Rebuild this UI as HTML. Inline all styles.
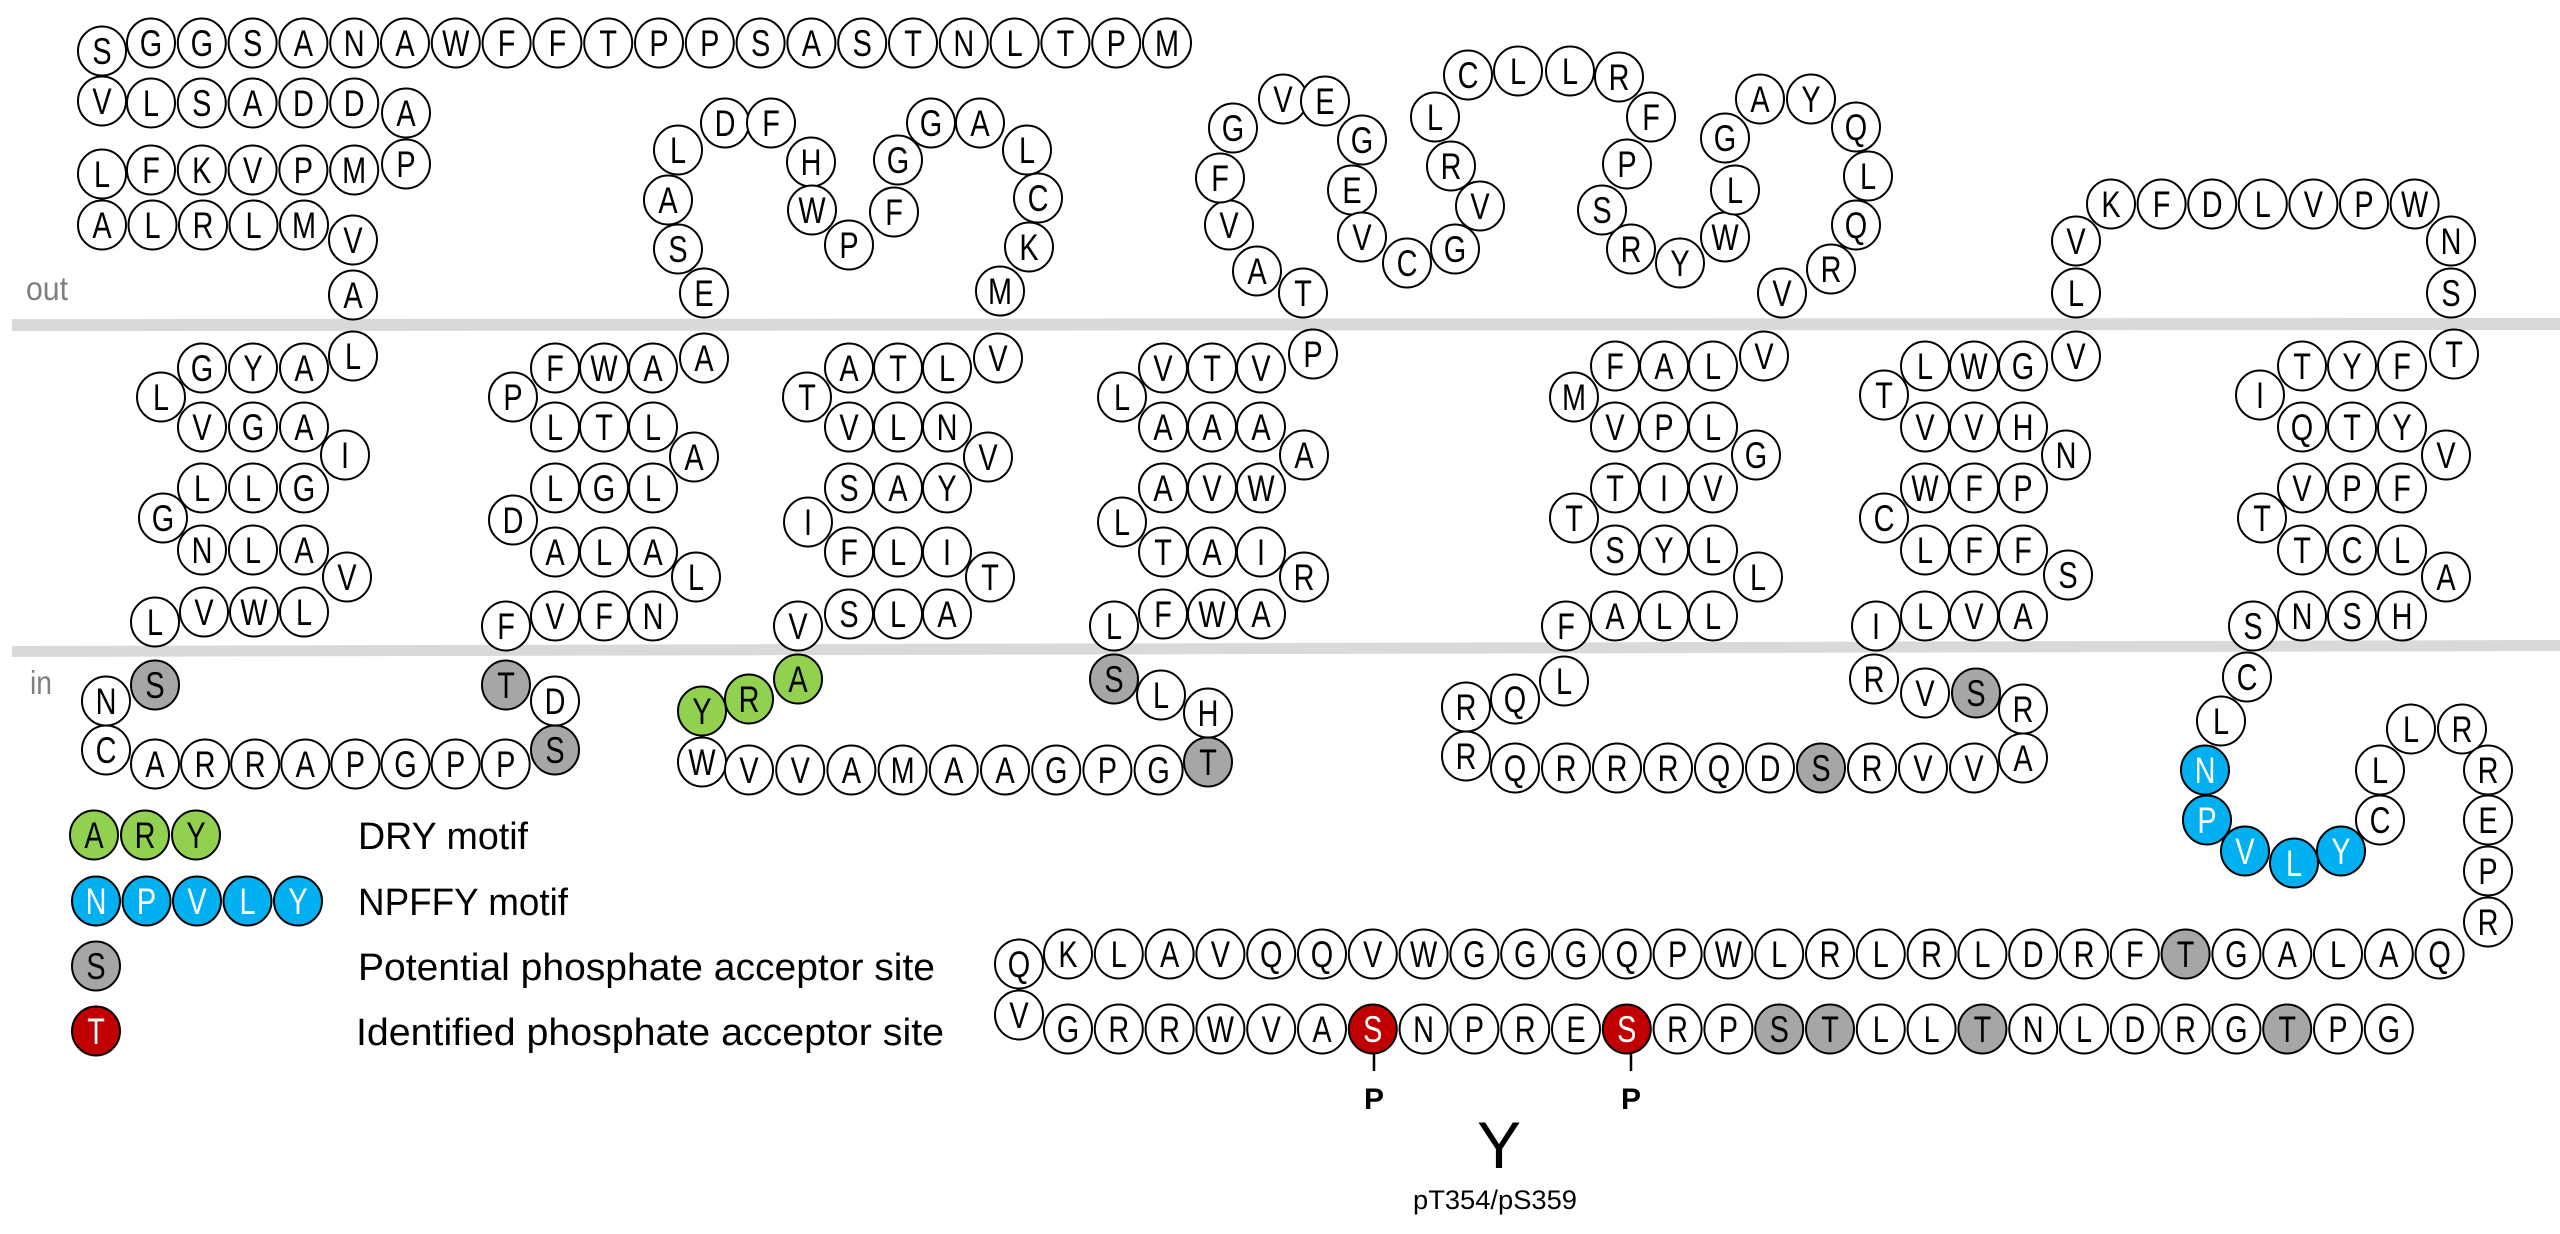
<!DOCTYPE html>
<html><head><meta charset="utf-8"><style>
html,body{margin:0;padding:0;background:#fff;}
svg{display:block;}
text{font-family:"Liberation Sans",sans-serif;}
</style></head><body>
<svg id="s" xmlns="http://www.w3.org/2000/svg" width="2560" height="1234" viewBox="0 0 2560 1234">
<polygon points="12,319 2560,318 2560,330 12,331" fill="#d9d9d9"/>
<polygon points="12,646 2560,640 2560,651 12,657" fill="#d9d9d9"/>
<text x="26" y="300" font-size="33" fill="#7f7f7f" textLength="42" lengthAdjust="spacingAndGlyphs">out</text>
<text x="30" y="694" font-size="33" fill="#7f7f7f" textLength="22" lengthAdjust="spacingAndGlyphs">in</text>
<text x="358" y="849" font-size="38" textLength="170" lengthAdjust="spacingAndGlyphs">DRY motif</text>
<text x="358" y="915" font-size="38" textLength="210" lengthAdjust="spacingAndGlyphs">NPFFY motif</text>
<text x="358" y="980" font-size="38" textLength="577" lengthAdjust="spacingAndGlyphs">Potential phosphate acceptor site</text>
<text x="356" y="1045" font-size="38" textLength="588" lengthAdjust="spacingAndGlyphs">Identified phosphate acceptor site</text>
<line x1="1374" y1="1053" x2="1374" y2="1071" stroke="#000" stroke-width="2.5"/>
<line x1="1631" y1="1053" x2="1631" y2="1071" stroke="#000" stroke-width="2.5"/>
<text x="1374" y="1109" font-size="30" font-weight="bold" text-anchor="middle">P</text>
<text x="1631" y="1109" font-size="30" font-weight="bold" text-anchor="middle">P</text>
<text x="1499" y="1168" font-size="66" text-anchor="middle">Y</text>
<text x="1495" y="1209" font-size="27" text-anchor="middle" textLength="164" lengthAdjust="spacingAndGlyphs">pT354/pS359</text>
<g id="g"></g>
</svg>
<script>
var W="#fff",G="#a6a6a6",GR="#92d050",B="#00b0f0",R="#c00000";
var d=[];
function a(t,x,y,c){d.push([t,x,y,c||W]);}
function row(s,x0,y,step,cols){for(var i=0;i<s.length;i++)a(s[i],x0+i*step,y,cols&&cols[i]);}
a("S",102,51);row("GGSANAWFFTPPSASTNLTPM",151,43,50.8);
a("V",102,101);row("LSADD",151,103,50.8);a("A",406,113);
a("L",102,174);row("FKVPM",151,170,50.8);a("P",406,164);
row("ALRLM",102,225,50.5);a("V",353,240);a("A",353,295);
a("L",353,356);row("GYA",202,368,51);a("L",161,397);row("VGA",202,427,51);a("I",345,455);
row("LLG",202,488,51);a("G",163,518);row("NLA",202,550,51);a("V",347,577);a("L",155,622);row("VWL",204,612,50);
a("A",668,200);a("S",678,249);a("E",704,293);a("L",678,150);a("D",725,123);a("F",771,123);a("H",811,162);a("W",812,210);a("P",849,245);a("F",894,212);a("G",898,160);a("G",931,123);a("A",980,123);a("L",1027,150);a("C",1038,198);a("K",1029,247);a("M",1000,291);
a("A",704,358);row("FWA",555,368,49);a("P",513,397);row("LTL",555,427,49);a("A",694,457);row("LGL",555,488,49);a("D",513,520);row("ALA",555,552,49);a("L",696,577);a("F",506,626);row("VFN",555,616,49);
a("V",998,358);row("ATL",849,368,49);a("T",807,397);row("VLN",849,427,49);a("V",988,457);row("SAY",849,488,49);a("I",808,522);row("FLI",849,552,49);a("T",990,577);a("V",798,626);row("SLA",849,614,49);
a("P",1313,354);row("VTV",1163,368,49);a("L",1122,397);row("AAA",1163,427,49);a("A",1304,455);row("AVW",1163,488,49);a("L",1122,522);row("TAI",1163,552,49);a("R",1304,577);a("L",1114,626);row("FWA",1163,614,49);
a("T",1303,293);a("A",1257,271);a("V",1229,225);a("F",1220,178);a("G",1233,128);a("V",1283,99);a("E",1325,101);a("G",1362,140);a("E",1352,190);a("V",1362,237);a("C",1407,263);a("G",1455,249);a("V",1480,206);a("R",1451,166);a("L",1435,117);a("C",1468,75);a("L",1518,71);a("L",1570,71);a("R",1619,77);a("F",1651,117);a("P",1627,164);a("S",1602,210);a("R",1631,249);a("Y",1680,263);a("W",1725,237);a("L",1735,190);a("G",1725,138);a("A",1760,99);a("Y",1811,99);a("Q",1856,127);a("L",1868,176);a("Q",1856,225);a("R",1831,269);a("V",1782,293);
a("V",1764,356);row("FAL",1615,366,49);a("M",1574,397);row("VPL",1615,427,49);a("G",1756,455);row("TIV",1615,488,49);a("T",1574,518);row("SYL",1615,550,49);a("L",1758,577);a("F",1566,626);row("ALL",1615,616,49);
a("V",2076,356);row("LWG",1925,366,49);a("T",1884,395);row("VVH",1925,427,49);a("N",2066,455);row("WFP",1925,488,49);a("C",1884,518);row("LFF",1925,550,49);a("S",2068,575);a("I",1876,626);row("LVA",1925,616,49);
a("L",2076,293);a("V",2076,241);row("KFDLVPW",2111,204,50.6);a("N",2451,241);a("S",2451,293);
a("T",2454,354);row("TYF",2302,366,50);a("I",2260,395);row("QTY",2302,427,50);a("V",2446,455);row("VPF",2302,488,50);a("T",2262,518);row("TCL",2302,550,50);a("A",2446,577);a("S",2253,626);row("NSH",2302,616,50);
a("N",106,701);a("S",155,685,G);a("C",106,750);row("ARRAPGPP",155,764,50.1);a("S",555,750,G);a("D",555,701);a("T",506,685,G);
a("Y",702,711,GR);a("R",749,699,GR);a("A",798,679,GR);a("W",702,762);row("VVAMAAGPG",749,770,51.2);a("T",1208,762,G);a("H",1208,713);a("L",1161,695);a("S",1114,679,G);
a("L",1564,681);a("Q",1515,699);a("R",1466,707);a("R",1466,756);
row("QRRRQDSRVV",1515,768,51,[0,0,0,0,0,0,G,0,0,0]);a("A",2023,758);a("R",2023,709);a("S",1976,693,G);a("V",1925,693);a("R",1874,679);
a("C",2247,677);a("L",2221,721);a("N",2205,770,B);a("P",2207,820,B);a("V",2245,851,B);a("L",2294,863,B);a("Y",2341,851,B);a("C",2380,820);a("L",2380,770);a("L",2411,729);a("R",2462,729);a("R",2488,770);a("E",2488,820);a("P",2488,871);a("R",2488,922);
row("KLAVQQVWGGGQPWLRLRLDRFTGALAQ",1068,954,50.8,(function(){var c=[];c[22]=G;return c;})());
a("Q",1019,964);a("V",1019,1015);
(function(){var s="GRRWVASNPRESRPSTLLTNLDRGTPG";var c=[];c[6]=R;c[11]=R;c[14]=G;c[15]=G;c[18]=G;c[24]=G;row(s,1068,1029,50.8,c);})();
row("ARY",94,835,51,[GR,GR,GR]);row("NPVLY",96,901,50.5,[B,B,B,B,B]);a("S",96,966,G);a("T",96,1031,R);
var ns="http://www.w3.org/2000/svg",g=document.getElementById("g");
d.forEach(function(p){
 var e=document.createElementNS(ns,"ellipse");e.setAttribute("cx",p[1]);e.setAttribute("cy",p[2]);e.setAttribute("rx",24);e.setAttribute("ry",24.5);
 e.setAttribute("fill",p[3]);e.setAttribute("stroke","#000");e.setAttribute("stroke-width","2");g.appendChild(e);
 var t=document.createElementNS(ns,"text");t.setAttribute("x",0);t.setAttribute("y",0);t.setAttribute("text-anchor","middle");
 t.setAttribute("transform","translate("+p[1]+","+(p[2]+13)+") scale(0.78,1)");
 t.setAttribute("font-size","37");t.setAttribute("fill",(p[3]==B||p[3]==R)?"#fff":"#000");t.textContent=p[0];g.appendChild(t);
});
</script>
</body></html>
